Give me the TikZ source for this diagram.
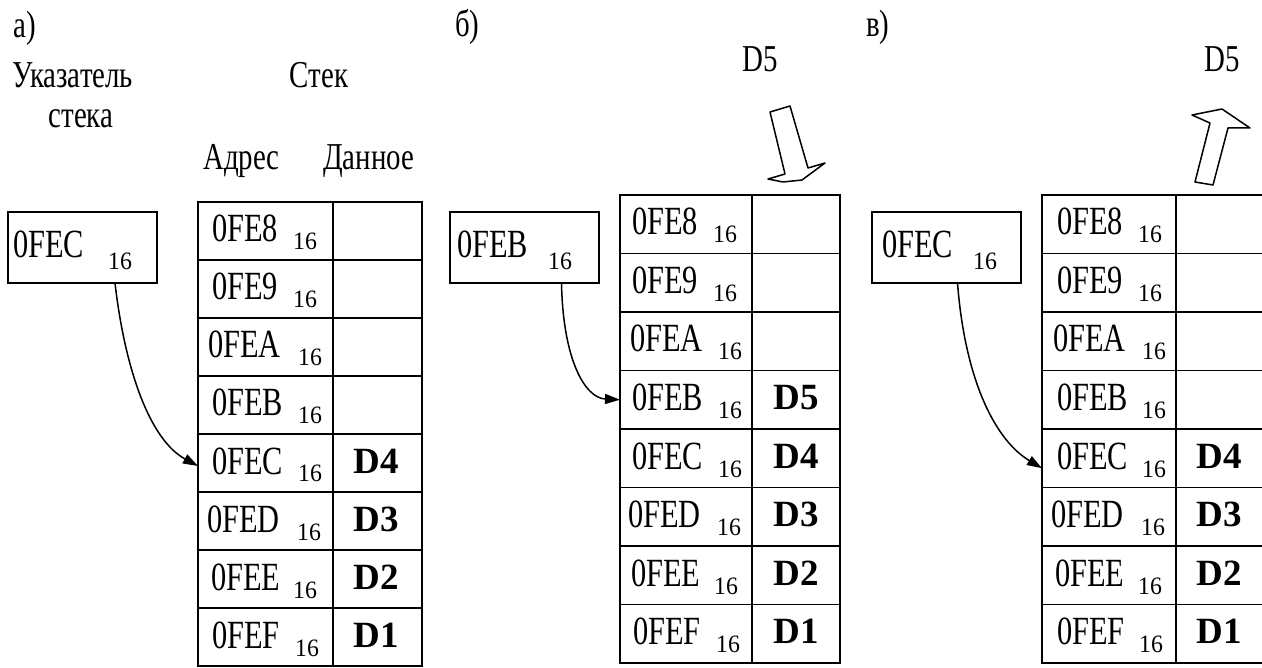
\documentclass[tikz,border=0pt]{standalone}
\usepackage{fontspec}
\setmainfont{Liberation Serif}
\newfontfamily\condfont{Liberation Serif}[FakeStretch=0.76]
\newfontfamily\subfont{Liberation Serif}[FakeStretch=0.95]
\usetikzlibrary{arrows.meta}
\tikzset{
  lbl/.style={inner sep=0pt, font=\condfont\fontsize{38}{42}\selectfont},
  addr/.style={inner sep=0pt, anchor=base west, font=\condfont\fontsize{40}{44}\selectfont},
  subs/.style={inner sep=0pt, anchor=base west, font=\subfont\fontsize{25}{28}\selectfont},
  dat/.style={inner sep=0pt, anchor=base, font=\fontsize{37}{40}\selectfont\bfseries},
  cellbox/.style={draw, line width=1.9pt, inner sep=0pt, outer sep=0pt, anchor=north west},
  ptrbox/.style={draw, line width=1.9pt, inner sep=0pt, outer sep=0pt, anchor=north west,
    minimum width=149pt, minimum height=71pt},
  ptr/.style={line width=1.5pt, -{Triangle[length=15pt,width=10pt]}},
  hollow/.style={line width=1.5pt, line join=round},
}
% #1 name, #2 left, #3 top, #4 divider, #5 right, #6 row height, #7 rows
\newcommand{\stackpanel}[7]{%
  \foreach \i/\a/\o/\s in {#7} {
    \pgfmathsetmacro\rt{#3+(\i-1)*#6}
    \node[cellbox, minimum width={(#4-#2)*1pt}, minimum height={#6*1pt}] (#1-\i) at (#2,\rt) {};
    \node[cellbox, minimum width={(#5-#4)*1pt}, minimum height={#6*1pt}] (#1-d\i) at (#4,\rt) {};
    \node[addr] (#1-t\i) at (#2+\o,\rt+40) {0FE\a};
    \node[subs] (#1-s\i) at (#2+\s,\rt+48) {16};
  }%
}
\newcommand{\stackdata}[5]{% #1 name, #2 centre x, #3 top, #4 row height, #5 list
  \foreach \i/\d in {#5} {
    \pgfmathsetmacro\rt{#3+(\i-1)*#4}
    \node[dat] (#1-v\i) at (#2,\rt+39) {\d};
  }%
}
\begin{document}
\begin{tikzpicture}[x=1pt,y=-1pt]
\useasboundingbox (0,0) rectangle (1262,668);
\clip (0,0) rectangle (1262,668);
\fill[white] (0,0) rectangle (1262,668);

% ---------- panel a ----------
\node[lbl, anchor=base west] (la) at (13,38) {а)};
\node[lbl, anchor=base west] (ua) at (12,88) {Указатель};
\node[lbl, anchor=base] (sa) at (81,128) {стека};
\node[lbl, anchor=base] (sta) at (319,88) {Стек};
\node[lbl, anchor=base west] (adr) at (203,170) {Адрес};
\node[lbl, anchor=base west] (dan) at (323,170) {Данное};
\node[ptrbox] (pa) at (8,212) {};
\node[addr] (pat) at (13,258) {0FEC};
\node[subs] (pas) at (108,270) {16};
\stackpanel{a}{198}{202}{333}{422}{58}{1/8/14/95, 2/9/14/95, 3/A/10/100, 4/B/14/100, 5/C/14/100, 6/D/9/99, 7/E/13/95, 8/F/14/97}
\stackdata{a}{376}{202}{58}{5/D4, 6/D3, 7/D2, 8/D1}
\draw[ptr] ([xshift=32.5pt]pa.south) .. controls (125,370) and (150,440) .. ([yshift=-3pt]a-5.west);

% ---------- panel b ----------
\node[lbl, anchor=base west] (lb) at (455,37) {б)};
\node[lbl, anchor=base] (d5b) at (760,72) {D5};
\draw[hollow] (770,112) -- (790,106) -- (808,168) -- (825,163) -- (802,180) -- (783,182) -- (768,179) -- (785,174) -- cycle;
\node[ptrbox] (pb) at (450,212) {};
\node[addr] (pbt) at (457,258) {0FEB};
\node[subs] (pbs) at (548,270) {16};
\stackpanel{b}{620}{195}{752}{840}{58.5}{1/8/12/93, 2/9/12/93, 3/A/10/98, 4/B/12/98, 5/C/12/98, 6/D/8/97, 7/E/11/94, 8/F/13/96}
\stackdata{b}{796}{195}{58.5}{4/D5, 5/D4, 6/D3, 7/D2, 8/D1}
\draw[ptr] ([xshift=37pt]pb.south) .. controls (563,360) and (585,398) .. (b-4.west);

% ---------- panel c ----------
\node[lbl, anchor=base west] (lc) at (866,37) {в)};
\node[lbl, anchor=base] (d5c) at (1222,72) {D5};
\draw[hollow] (1195,182) -- (1210,123) -- (1192,115) -- (1222,109) -- (1250,128) -- (1228,128) -- (1213,185) -- cycle;
\node[ptrbox] (pc) at (872,212) {};
\node[addr] (pct) at (882,258) {0FEC};
\node[subs] (pcs) at (973,270) {16};
\stackpanel{c}{1042}{195}{1176}{1264}{58.5}{1/8/15/96, 2/9/15/96, 3/A/11/100, 4/B/15/100, 5/C/15/100, 6/D/9/99, 7/E/13/96, 8/F/15/97}
\stackdata{c}{1219}{195}{58.5}{5/D4, 6/D3, 7/D2, 8/D1}
\draw[ptr] ([xshift=11pt]pc.south) .. controls (965,380) and (995,440) .. ([yshift=-10pt]c-5.west);
\end{tikzpicture}
\end{document}
